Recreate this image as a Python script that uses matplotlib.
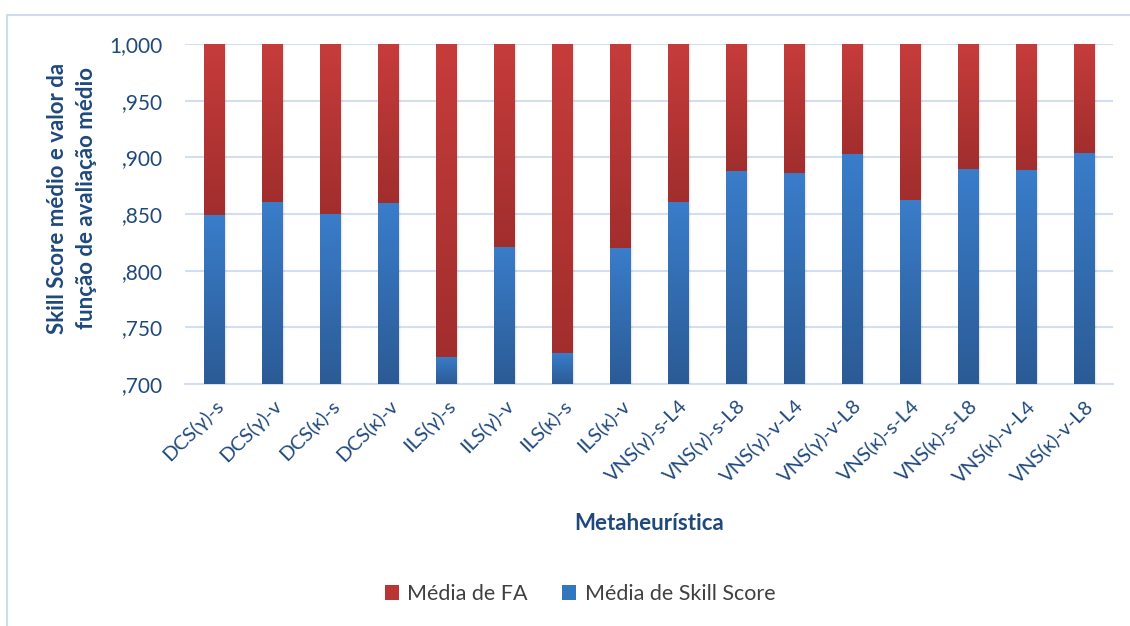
import matplotlib
matplotlib.use("Agg")
import matplotlib.pyplot as plt
import numpy as np
from matplotlib.colors import LinearSegmentedColormap
from matplotlib.patches import Rectangle, Patch
from matplotlib.ticker import FuncFormatter

categories = ["DCS(γ)-s", "DCS(γ)-v", "DCS(κ)-s", "DCS(κ)-v", "ILS(γ)-s", "ILS(γ)-v",
              "ILS(κ)-s", "ILS(κ)-v", "VNS(γ)-s-L4", "VNS(γ)-s-L8", "VNS(γ)-v-L4",
              "VNS(γ)-v-L8", "VNS(κ)-s-L4", "VNS(κ)-s-L8", "VNS(κ)-v-L4", "VNS(κ)-v-L8"]
skill_score = [0.849, 0.861, 0.850, 0.860, 0.724, 0.821, 0.727, 0.820,
               0.861, 0.888, 0.886, 0.903, 0.862, 0.890, 0.889, 0.904]
media_fa = [0.151, 0.139, 0.150, 0.140, 0.276, 0.179, 0.273, 0.180,
            0.139, 0.112, 0.114, 0.097, 0.138, 0.110, 0.111, 0.096]
y_ticks = [0.700, 0.750, 0.800, 0.850, 0.900, 0.950, 1.000]

W, H = 1130, 626
fig = plt.figure(figsize=(W / 100, H / 100), dpi=100)
plt.rcParams['font.family'] = ['Lato', 'DejaVu Sans']

# outer frame
fig.patches.append(Rectangle((7 / W, -0.05), 1.2, 1 - 15 / H + 0.05, transform=fig.transFigure,
                             fill=False, edgecolor="#cfdcec", linewidth=1.5))

ax = fig.add_axes([185 / W, 1 - 384 / H, (1113 - 185) / W, (384 - 44) / H])
ymin, ymax = 0.700, 1.000
x = np.arange(len(categories))
bw = 0.36
blue_c = LinearSegmentedColormap.from_list("b", ["#2b5b95", "#3a7dca"])
red_c = LinearSegmentedColormap.from_list("r", ["#a12e2d", "#c63c3b"])

bottoms = [ymin] * len(categories)
heights_blue = [s - ymin for s in skill_score]
bars_b = ax.bar(x, heights_blue, bw, bottom=bottoms, color="#3276c0", zorder=3)
bars_r = ax.bar(x, media_fa, bw, bottom=skill_score, color="#b83534", zorder=3)

grad = np.linspace(0, 1, 256).reshape(-1, 1)
for bars, cm in [(bars_b, blue_c), (bars_r, red_c)]:
    for p in bars:
        x0, w = p.get_x(), p.get_width()
        y0, h = p.get_y(), p.get_height()
        y1 = min(y0 + h, ymax)
        im = ax.imshow(grad, extent=[x0, x0 + w, y0, y1], origin="lower", cmap=cm,
                       aspect="auto", zorder=4, interpolation="bilinear")
        im.set_clip_path(p)
        for k, a in [(1, 0.10), (2, 0.06), (3, 0.03)]:
            ax.add_patch(Rectangle((x0 + w, y0), 0.012 * k, y1 - y0, color="#000000",
                                   alpha=a, zorder=2, linewidth=0))

ax.set_xlim(-0.5, len(categories) - 0.5)
ax.set_ylim(ymin, ymax)
ax.set_yticks(y_ticks)

def fmt(v, pos):
    s = f"{v:.3f}".replace(".", ",")
    return s[1:] if s.startswith("0") else s

ax.yaxis.set_major_formatter(FuncFormatter(fmt))
ax.grid(axis="y", color="#d3dff0", linewidth=1.5, zorder=0)
ax.set_axisbelow(True)
for s in ["top", "right", "left"]:
    ax.spines[s].set_visible(False)
ax.spines["bottom"].set_color("#d3dff0")
ax.spines["bottom"].set_linewidth(1.5)
ax.spines["bottom"].set_zorder(1)

txt_c = "#1f497d"
ax.tick_params(axis="y", length=0, pad=16, labelsize=15, labelcolor=txt_c)
ax.tick_params(axis="x", length=0, pad=9, labelsize=14.5, labelcolor=txt_c)
ax.set_xticks(x)
ax.set_xticklabels(categories, rotation=45, ha="right", va="top", rotation_mode="anchor")

ax.set_xlabel("Metaheurística", fontsize=16, fontweight="bold", color=txt_c)
ax.xaxis.set_label_coords(0.5, (384 - 524) / 340)
ax.xaxis.label.set_va("center")
fig.text(72 / W, 1 - 198 / H, "Skill Score médio e valor da\nfunção de avaliação médio",
         rotation=90, ha="center", va="center", fontsize=16, fontweight="bold",
         color=txt_c, linespacing=1.45, multialignment="center")

handles = [Patch(facecolor="#b83534"), Patch(facecolor="#3276c0")]
fig.legend(handles, ["Média de FA", "Média de Skill Score"], loc="center",
           bbox_to_anchor=(580 / W, 1 - 594 / H), ncol=2, frameon=False,
           fontsize=15.5, handlelength=0.65, handleheight=0.65, columnspacing=1.6,
           handletextpad=0.4, labelcolor="#404040")

fig.savefig("out.png", dpi=100)
